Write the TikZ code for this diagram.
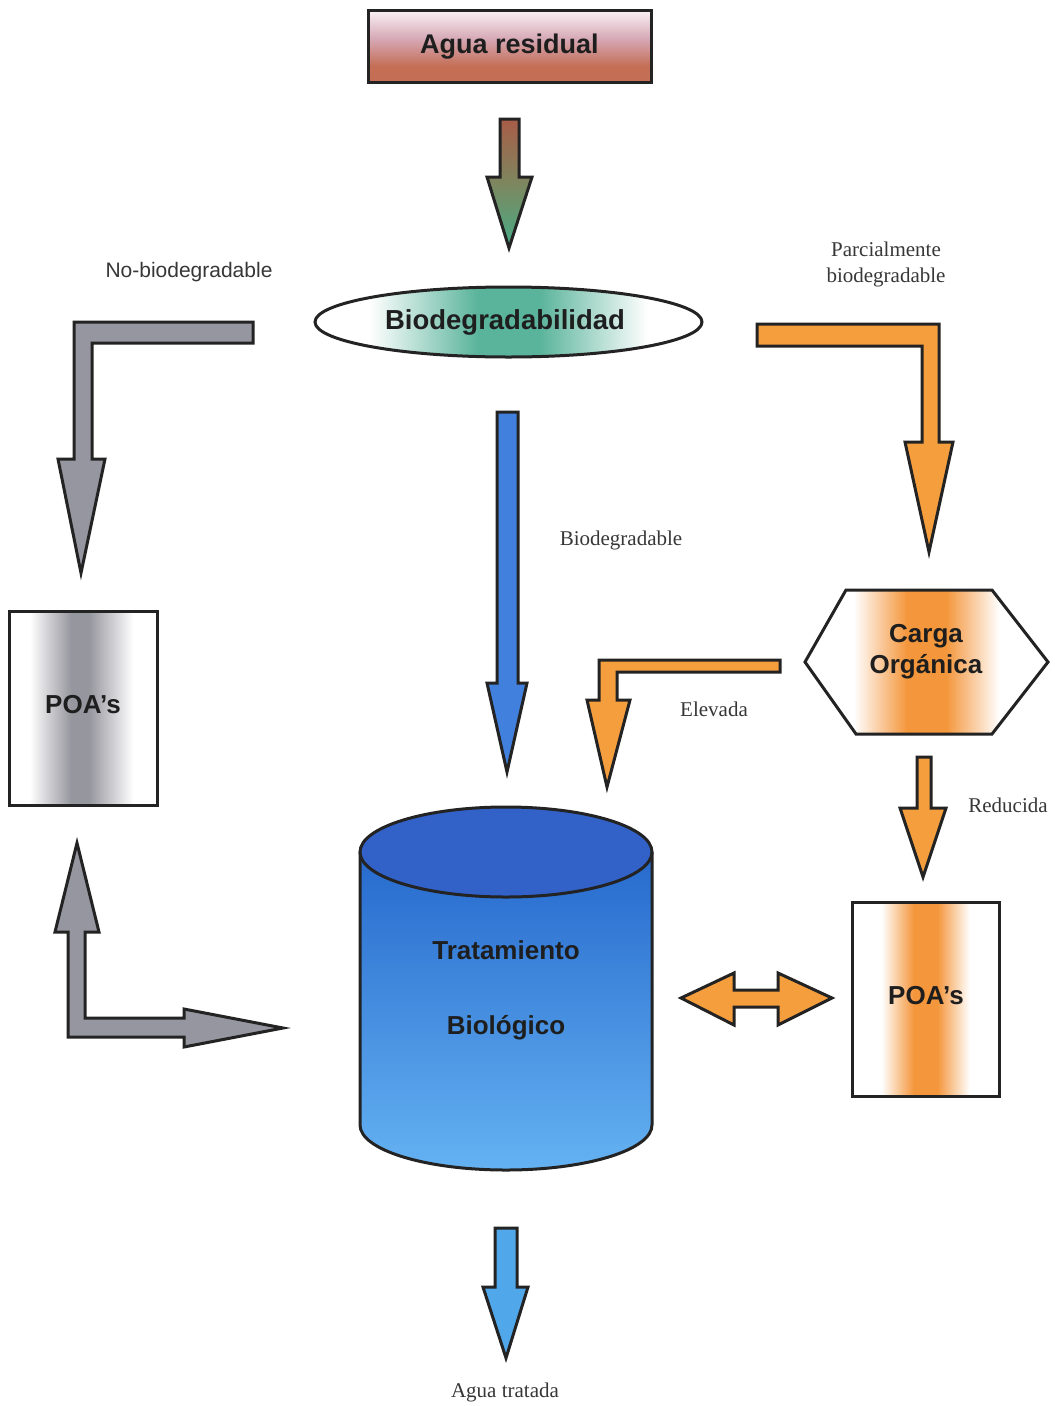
\documentclass[tikz,border=0pt]{standalone}
\usepackage{fontspec}
\setmainfont{Liberation Serif}
\setsansfont{Liberation Sans}
\usetikzlibrary{shapes.geometric}
\definecolor{edge}{RGB}{35,35,35}
\definecolor{txt}{RGB}{30,30,30}
\definecolor{lbltxt}{RGB}{55,55,55}
\definecolor{corange}{RGB}{245,158,62}
\definecolor{cband}{RGB}{244,150,60}
\definecolor{cgrey}{RGB}{150,150,160}
\definecolor{cgreyband}{RGB}{150,150,158}
\definecolor{cteal}{RGB}{90,180,155}
\definecolor{crust}{RGB}{196,110,85}
\definecolor{cmauve}{RGB}{214,168,182}
\definecolor{cpale}{RGB}{250,242,245}
\definecolor{cblue}{RGB}{65,128,220}
\definecolor{clblue}{RGB}{80,168,235}
\definecolor{cyltop}{RGB}{50,97,200}
\definecolor{cylhi}{RGB}{38,105,205}
\definecolor{cyllo}{RGB}{100,178,242}
\definecolor{abrown}{RGB}{168,92,72}
\definecolor{agreen}{RGB}{70,172,135}
\definecolor{aolive}{RGB}{125,135,95}
\pgfdeclarehorizontalshading{orangeband}{100bp}{color(0bp)=(white); color(25bp)=(white); color(35bp)=(white); color(46bp)=(cband); color(54bp)=(cband); color(65bp)=(white); color(75bp)=(white); color(100bp)=(white)}
\pgfdeclarehorizontalshading{greyband}{100bp}{color(0bp)=(white); color(25bp)=(white); color(32bp)=(white); color(46bp)=(cgreyband); color(52bp)=(cgreyband); color(67bp)=(white); color(75bp)=(white); color(100bp)=(white)}
\pgfdeclarehorizontalshading{tealband}{100bp}{color(0bp)=(white); color(25bp)=(white); color(32bp)=(white); color(46bp)=(cteal); color(54bp)=(cteal); color(68bp)=(white); color(75bp)=(white); color(100bp)=(white)}
\pgfdeclareverticalshading{rustfade}{100bp}{color(0bp)=(crust); color(25bp)=(crust); color(36bp)=(crust); color(55bp)=(cmauve); color(75bp)=(cpale); color(100bp)=(cpale)}
\tikzset{
  blk/.style={draw=edge, line width=3pt, line join=miter},
  boxtxt/.style={font=\sffamily\bfseries\fontsize{26}{31}\selectfont, text=txt, inner sep=0pt},
  lbl/.style={font=\fontsize{21}{26}\selectfont, text=lbltxt, align=center, inner sep=0pt},
  slbl/.style={font=\sffamily\fontsize{21}{26}\selectfont, text=lbltxt, inner sep=0pt},
}
\begin{document}
\begin{tikzpicture}[x=1pt,y=-1pt]
\path[fill=white,use as bounding box] (0,0) rectangle (1055,1406);

% ---- Agua residual box
\node[blk, shading=rustfade, minimum width=283pt, minimum height=72pt, inner sep=0pt] (agua) at (509.5,46) {};
\node[boxtxt, font=\sffamily\bfseries\fontsize{27}{31}\selectfont] (aguat) at (509.5,47) {Agua residual};

% arrow agua -> bio
\path[blk, top color=abrown, bottom color=agreen, middle color=aolive]
  (500,119) -- (519,119) -- (519,177) -- (532,177) -- (509,248) -- (487,177) -- (500,177) -- cycle;

% ---- Biodegradabilidad ellipse
\node[blk, ellipse, shading=tealband, minimum width=387pt, minimum height=70pt, inner sep=0pt] (bio) at (508.5,322) {};
\node[boxtxt, font=\sffamily\bfseries\fontsize{27.5}{31}\selectfont] (biot) at (505,322) {Biodegradabilidad};

% ---- No-biodegradable grey L arrow
\node[slbl] (lnobio) at (189,272) {No-biodegradable};
\path[blk, fill=cgrey]
  (253,322) -- (74,322) -- (74,459) -- (58,459) -- (81,573) -- (105,459) -- (92,459) -- (92,343) -- (253,343) -- cycle;

% ---- Parcialmente orange L arrow
\node[lbl] (lparc) at (886,264) {Parcialmente\\biodegradable};
\path[blk, fill=corange]
  (757,324) -- (939,324) -- (939,442) -- (953,442) -- (929,552) -- (905,442) -- (922,442) -- (922,346) -- (757,346) -- cycle;

% ---- Biodegradable blue arrow
\node[lbl] (lbiod) at (621,540) {Biodegradable};
\path[blk, fill=cblue]
  (497,412) -- (518,412) -- (518,683) -- (527,683) -- (507,772) -- (487,683) -- (497,683) -- cycle;

% ---- Left POA's box
\node[blk, shading=greyband, minimum width=148pt, minimum height=194pt, inner sep=0pt] (poaL) at (83,708) {};
\node[boxtxt] (poaLt) at (83,705) {POA’s};

% ---- Carga Organica hexagon
\path[blk, shading=orangeband]
  (805,662) -- (846,590) -- (992,590) -- (1048,662) -- (992,734) -- (856,734) -- cycle;
\node[boxtxt, align=center] (carga) at (926,652) {Carga\\Orgánica};

% ---- Elevada arrow
\node[lbl] (lelev) at (714,709) {Elevada};
\path[blk, fill=corange]
  (780,660) -- (599,660) -- (599,700) -- (587,700) -- (607,787) -- (630,700) -- (617,700) -- (617,672) -- (780,672) -- cycle;

% ---- Reducida arrow
\node[lbl] (lred) at (1008,805) {Reducida};
\path[blk, fill=corange]
  (917,757) -- (931,757) -- (931,808) -- (946,808) -- (923,877) -- (900,808) -- (917,808) -- cycle;

% ---- Right POA's box
\node[blk, shading=orangeband, minimum width=147pt, minimum height=194pt, inner sep=0pt] (poaR) at (925.5,999) {};
\node[boxtxt] (poaRt) at (926,996) {POA’s};

% ---- double arrow between cylinder and right POA's
\path[blk, fill=corange]
  (681,998) -- (734,973) -- (734,990) -- (778,990) -- (778,973) -- (832,998) -- (778,1025) -- (778,1007) -- (734,1007) -- (734,1025) -- cycle;

% ---- grey L double arrow (left POA's <-> cylinder)
\path[blk, fill=cgrey]
  (77,843) -- (99,932) -- (85,932) -- (85,1018) -- (184,1018) -- (184,1009) -- (283,1028) -- (184,1047) -- (184,1037) -- (68,1037) -- (68,932) -- (55,932) -- cycle;

% ---- Cylinder: Tratamiento Biologico
\path[top color=cylhi, bottom color=cyllo]
  (360,852) -- (360,1125) arc[start angle=180, end angle=0, x radius=146, y radius=45] -- (652,852) -- cycle;
\draw[draw=edge, line width=3pt]
  (360,852) -- (360,1125) arc[start angle=180, end angle=0, x radius=146, y radius=45] -- (652,852);
\path[blk, fill=cyltop] (506,852) ellipse[x radius=146, y radius=45];
\node[boxtxt] (trat) at (506,950) {Tratamiento};
\node[boxtxt] (biol) at (506,1028) {Biológico};

% ---- output arrow
\path[blk, fill=clblue]
  (495,1228) -- (517,1228) -- (517,1287) -- (528,1287) -- (506,1358) -- (483,1287) -- (495,1287) -- cycle;
\node[lbl] (lout) at (505,1392) {Agua tratada};
\end{tikzpicture}
\end{document}
